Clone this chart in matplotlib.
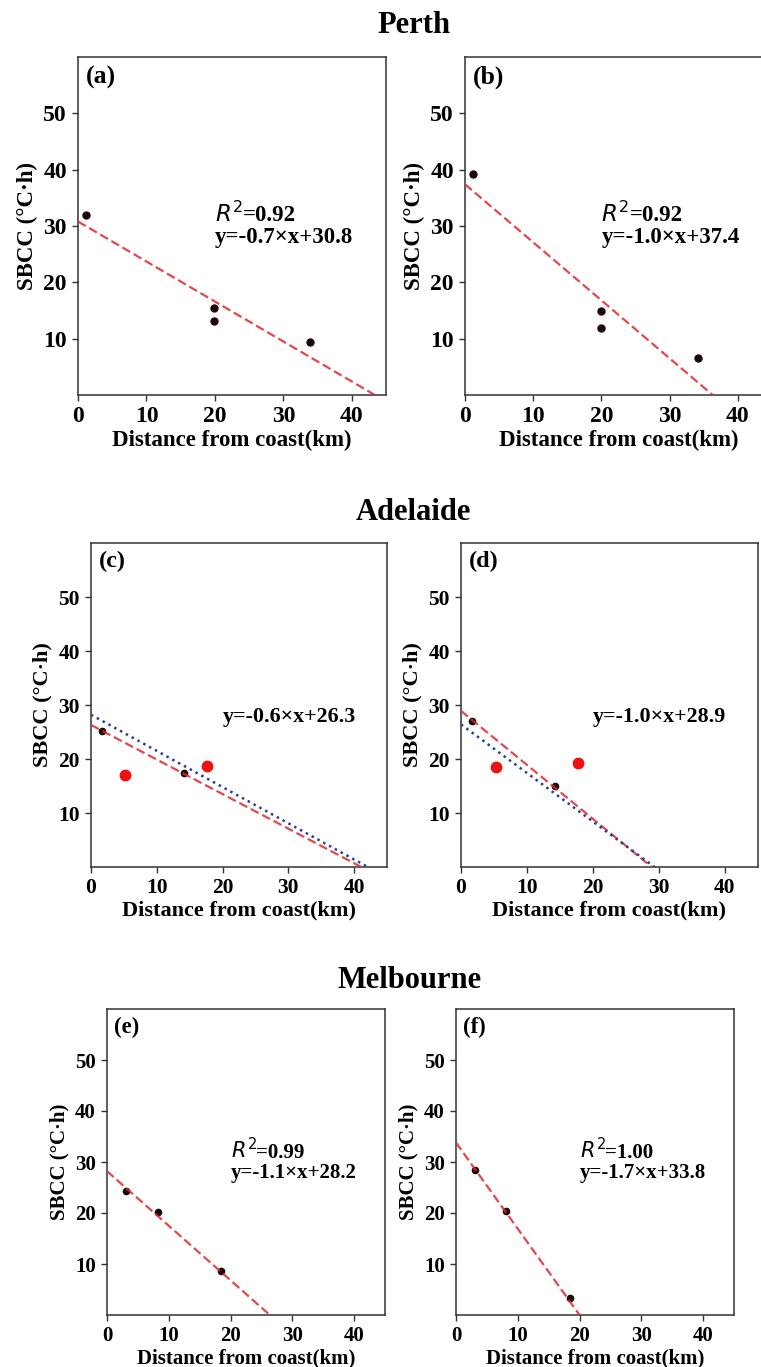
#!/usr/bin/env python3
"""
SBCC vs distance from coast for Perth, Adelaide and Melbourne (6 panels).
Output: out.png
"""

import numpy as np
import matplotlib
matplotlib.use("Agg")
import matplotlib.pyplot as plt
from matplotlib.transforms import offset_copy

plt.rcParams["font.family"] = ["Liberation Serif", "DejaVu Serif"]
plt.rcParams["font.weight"] = "normal"   # keeps mathtext R^2 upright weight

W, H = 761, 1367

CITIES = ["Perth", "Adelaide", "Melbourne"]
PANELS = ["(a)", "(b)", "(c)", "(d)", "(e)", "(f)"]
XTICKS = [0, 10, 20, 30, 40]
YTICKS = [10, 20, 30, 40, 50]

# black points (distance km, SBCC)
PTS_X = [[1.1, 19.9, 19.9, 33.9],
         [1.1, 20.0, 20.0, 34.2],
         [1.6, 14.1],
         [1.6, 14.2],
         [3.1, 8.2, 18.4],
         [3.1, 8.1, 18.4]]
PTS_Y = [[32.0, 15.5, 13.2, 9.4],
         [39.2, 15.0, 11.9, 6.5],
         [25.2, 17.5],
         [27.1, 15.0],
         [24.3, 20.2, 8.6],
         [28.5, 20.4, 3.4]]

# red (excluded) points, Adelaide only
RED_X = [None, None, [5.2, 17.7], [5.3, 17.8], None, None]
RED_Y = [None, None, [17.0, 18.7], [18.6, 19.2], None, None]

# red dashed fit
SLOPE = [-0.71, -1.03, -0.64, -1.00, -1.07, -1.69]
INTER = [30.8, 37.4, 26.3, 28.9, 28.2, 33.8]
R2    = [0.92, 0.92, None, None, 0.99, 1.00]

# blue dotted fit (Adelaide)
B_SLOPE = [None, None, -0.67, -0.90, None, None]
B_INTER = [None, None, 28.2, 26.4, None, None]

# axes boxes in pixels: left, top, right, bottom
BOXES = [(78, 57, 386, 395), (465, 57, 772, 395),
         (91, 543, 387, 867), (461, 543, 758, 867),
         (107, 1009, 385, 1315), (456, 1009, 734, 1315)]

# per-row font sizes: ticks, axis labels, equation, panel tag
ROW_FS = [(17, 16.5, 16.5, 18.5), (15.5, 16, 15.8, 17.5), (15, 15, 15, 16.5)]

TITLE_POS = [(414, 33), (413, 520), (410, 988)]

fig = plt.figure(figsize=(W / 100, H / 100), dpi=100)
fig.patch.set_facecolor("white")
renderer = fig.canvas.get_renderer()

for i, (l, t, r, b) in enumerate(BOXES):
    tick_fs, lab_fs, eq_fs, tag_fs = ROW_FS[i // 2]
    ax = fig.add_axes([l / W, 1 - b / H, (r - l) / W, (b - t) / H])
    ax.set_xlim(0, 45)
    ax.set_ylim(0, 60)
    ax.set_xticks(XTICKS, [str(v) for v in XTICKS],
                  fontsize=tick_fs, fontweight="bold")
    ax.set_yticks(YTICKS, [str(v) for v in YTICKS],
                  fontsize=tick_fs, fontweight="bold")
    ax.tick_params(color="#333333", length=4.5, width=1)
    for s in ax.spines.values():
        s.set_color("#333333")
        s.set_linewidth(1.1)

    ax.plot(PTS_X[i], PTS_Y[i], "o", color="#1a0505",
            ms=5 if i < 2 else 4.5, zorder=3)
    if RED_X[i] is not None:
        ax.plot(RED_X[i], RED_Y[i], "o", color="#ee1111", ms=7.5, zorder=3)

    xs = np.array([0.0, 45.0])
    ax.plot(xs, SLOPE[i] * xs + INTER[i], "--", color="#e0282c",
            lw=1.6, alpha=0.85, zorder=4, dashes=(4, 1.8))
    if B_SLOPE[i] is not None:
        ax.plot(xs, B_SLOPE[i] * xs + B_INTER[i], ":", color="#2a3f9a",
                lw=1.8, zorder=4)

    eq = f"y=-{abs(SLOPE[i]):.1f}×x+{INTER[i]:.1f}"
    ax.text(20, 26.9, eq, fontsize=eq_fs, fontweight="bold",
            ha="left", va="baseline")
    if R2[i] is not None:
        t1 = ax.text(20, 30.8, r"$R^2$", fontsize=eq_fs,
                     ha="left", va="baseline")
        w = t1.get_window_extent(renderer).width
        ax.text(20, 30.8, f"={R2[i]:.2f}", fontsize=eq_fs, fontweight="bold",
                ha="left", va="baseline",
                transform=offset_copy(ax.transData, fig=fig, x=w, y=0,
                                      units="dots"))

    ax.text(0.025, 0.975, PANELS[i], transform=ax.transAxes,
            fontsize=tag_fs, fontweight="bold", ha="left", va="top")

    ax.set_xlabel("Distance from coast(km)", fontsize=lab_fs,
                  fontweight="bold", labelpad=2)
    ax.set_ylabel("SBCC (°C·h)", fontsize=lab_fs, fontweight="bold")

for name, (x, y) in zip(CITIES, TITLE_POS):
    fig.text(x / W, 1 - y / H, name, fontsize=22, fontweight="bold",
             ha="center", va="baseline")

fig.savefig("out.png", dpi=100)
plt.close(fig)
